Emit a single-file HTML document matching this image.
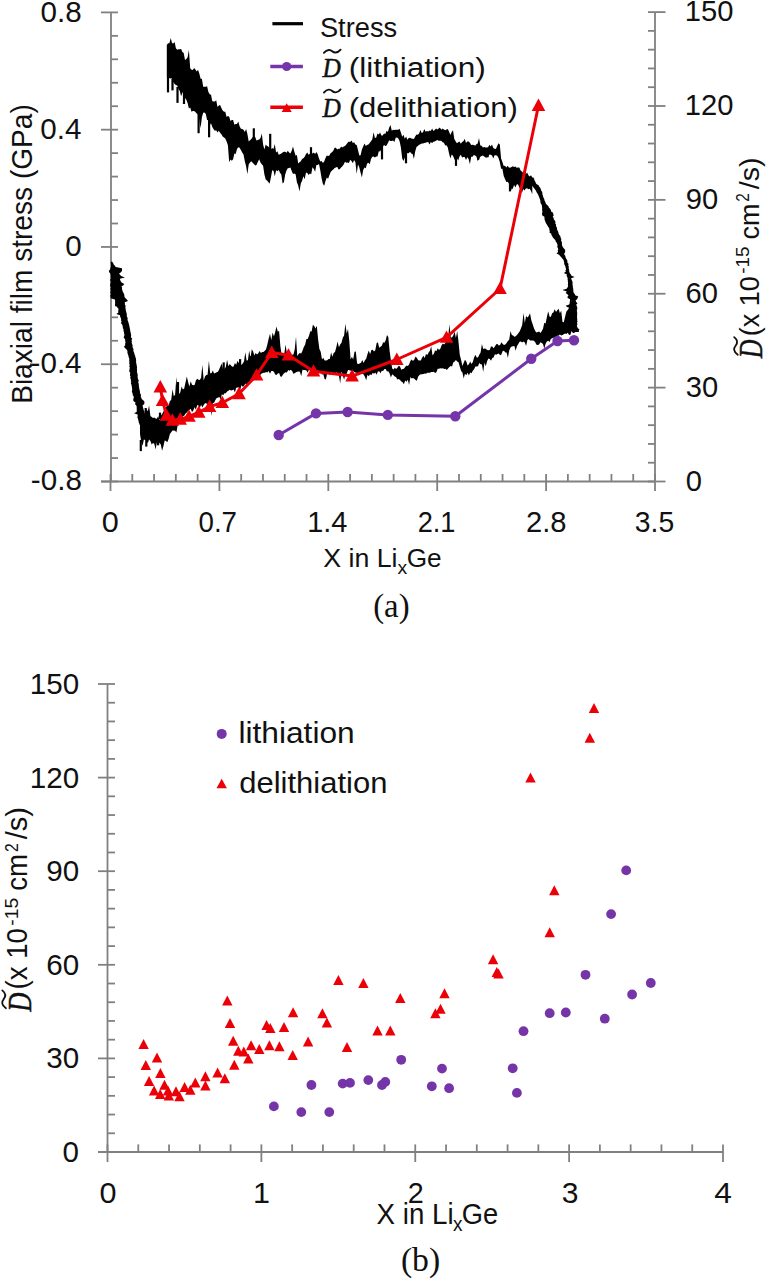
<!DOCTYPE html>
<html><head><meta charset="utf-8"><title>Figure</title>
<style>html,body{margin:0;padding:0;background:#fff;}body{width:766px;height:1280px;overflow:hidden;font-family:"Liberation Sans",sans-serif;}svg{display:block;}</style>
</head><body>
<svg width="766" height="1280" viewBox="0 0 766 1280"><line x1="111.00" y1="12.40" x2="111.00" y2="481.50" stroke="#808080" stroke-width="1.8"/>
<line x1="101.00" y1="12.40" x2="118.00" y2="12.40" stroke="#808080" stroke-width="1.8"/>
<line x1="111.00" y1="35.86" x2="118.00" y2="35.86" stroke="#808080" stroke-width="1.8"/>
<line x1="111.00" y1="59.31" x2="118.00" y2="59.31" stroke="#808080" stroke-width="1.8"/>
<line x1="111.00" y1="82.77" x2="118.00" y2="82.77" stroke="#808080" stroke-width="1.8"/>
<line x1="111.00" y1="106.22" x2="118.00" y2="106.22" stroke="#808080" stroke-width="1.8"/>
<line x1="101.00" y1="129.68" x2="118.00" y2="129.68" stroke="#808080" stroke-width="1.8"/>
<line x1="111.00" y1="153.13" x2="118.00" y2="153.13" stroke="#808080" stroke-width="1.8"/>
<line x1="111.00" y1="176.59" x2="118.00" y2="176.59" stroke="#808080" stroke-width="1.8"/>
<line x1="111.00" y1="200.04" x2="118.00" y2="200.04" stroke="#808080" stroke-width="1.8"/>
<line x1="111.00" y1="223.50" x2="118.00" y2="223.50" stroke="#808080" stroke-width="1.8"/>
<line x1="101.00" y1="246.95" x2="118.00" y2="246.95" stroke="#808080" stroke-width="1.8"/>
<line x1="111.00" y1="270.41" x2="118.00" y2="270.41" stroke="#808080" stroke-width="1.8"/>
<line x1="111.00" y1="293.86" x2="118.00" y2="293.86" stroke="#808080" stroke-width="1.8"/>
<line x1="111.00" y1="317.32" x2="118.00" y2="317.32" stroke="#808080" stroke-width="1.8"/>
<line x1="111.00" y1="340.77" x2="118.00" y2="340.77" stroke="#808080" stroke-width="1.8"/>
<line x1="101.00" y1="364.23" x2="118.00" y2="364.23" stroke="#808080" stroke-width="1.8"/>
<line x1="111.00" y1="387.68" x2="118.00" y2="387.68" stroke="#808080" stroke-width="1.8"/>
<line x1="111.00" y1="411.14" x2="118.00" y2="411.14" stroke="#808080" stroke-width="1.8"/>
<line x1="111.00" y1="434.59" x2="118.00" y2="434.59" stroke="#808080" stroke-width="1.8"/>
<line x1="111.00" y1="458.05" x2="118.00" y2="458.05" stroke="#808080" stroke-width="1.8"/>
<line x1="101.00" y1="481.50" x2="118.00" y2="481.50" stroke="#808080" stroke-width="1.8"/>
<line x1="655.00" y1="12.10" x2="655.00" y2="481.50" stroke="#808080" stroke-width="1.8"/>
<line x1="648.00" y1="12.10" x2="665.50" y2="12.10" stroke="#808080" stroke-width="1.8"/>
<line x1="648.00" y1="30.88" x2="655.00" y2="30.88" stroke="#808080" stroke-width="1.8"/>
<line x1="648.00" y1="49.65" x2="655.00" y2="49.65" stroke="#808080" stroke-width="1.8"/>
<line x1="648.00" y1="68.43" x2="655.00" y2="68.43" stroke="#808080" stroke-width="1.8"/>
<line x1="648.00" y1="87.20" x2="655.00" y2="87.20" stroke="#808080" stroke-width="1.8"/>
<line x1="648.00" y1="105.98" x2="665.50" y2="105.98" stroke="#808080" stroke-width="1.8"/>
<line x1="648.00" y1="124.76" x2="655.00" y2="124.76" stroke="#808080" stroke-width="1.8"/>
<line x1="648.00" y1="143.53" x2="655.00" y2="143.53" stroke="#808080" stroke-width="1.8"/>
<line x1="648.00" y1="162.31" x2="655.00" y2="162.31" stroke="#808080" stroke-width="1.8"/>
<line x1="648.00" y1="181.08" x2="655.00" y2="181.08" stroke="#808080" stroke-width="1.8"/>
<line x1="648.00" y1="199.86" x2="665.50" y2="199.86" stroke="#808080" stroke-width="1.8"/>
<line x1="648.00" y1="218.64" x2="655.00" y2="218.64" stroke="#808080" stroke-width="1.8"/>
<line x1="648.00" y1="237.41" x2="655.00" y2="237.41" stroke="#808080" stroke-width="1.8"/>
<line x1="648.00" y1="256.19" x2="655.00" y2="256.19" stroke="#808080" stroke-width="1.8"/>
<line x1="648.00" y1="274.96" x2="655.00" y2="274.96" stroke="#808080" stroke-width="1.8"/>
<line x1="648.00" y1="293.74" x2="665.50" y2="293.74" stroke="#808080" stroke-width="1.8"/>
<line x1="648.00" y1="312.52" x2="655.00" y2="312.52" stroke="#808080" stroke-width="1.8"/>
<line x1="648.00" y1="331.29" x2="655.00" y2="331.29" stroke="#808080" stroke-width="1.8"/>
<line x1="648.00" y1="350.07" x2="655.00" y2="350.07" stroke="#808080" stroke-width="1.8"/>
<line x1="648.00" y1="368.84" x2="655.00" y2="368.84" stroke="#808080" stroke-width="1.8"/>
<line x1="648.00" y1="387.62" x2="665.50" y2="387.62" stroke="#808080" stroke-width="1.8"/>
<line x1="648.00" y1="406.40" x2="655.00" y2="406.40" stroke="#808080" stroke-width="1.8"/>
<line x1="648.00" y1="425.17" x2="655.00" y2="425.17" stroke="#808080" stroke-width="1.8"/>
<line x1="648.00" y1="443.95" x2="655.00" y2="443.95" stroke="#808080" stroke-width="1.8"/>
<line x1="648.00" y1="462.72" x2="655.00" y2="462.72" stroke="#808080" stroke-width="1.8"/>
<line x1="648.00" y1="481.50" x2="665.50" y2="481.50" stroke="#808080" stroke-width="1.8"/>
<line x1="101.00" y1="481.50" x2="655.00" y2="481.50" stroke="#808080" stroke-width="1.8"/>
<line x1="110.50" y1="474.00" x2="110.50" y2="491.00" stroke="#808080" stroke-width="1.8"/>
<line x1="132.28" y1="474.00" x2="132.28" y2="481.50" stroke="#808080" stroke-width="1.8"/>
<line x1="154.06" y1="474.00" x2="154.06" y2="481.50" stroke="#808080" stroke-width="1.8"/>
<line x1="175.84" y1="474.00" x2="175.84" y2="481.50" stroke="#808080" stroke-width="1.8"/>
<line x1="197.62" y1="474.00" x2="197.62" y2="481.50" stroke="#808080" stroke-width="1.8"/>
<line x1="219.40" y1="474.00" x2="219.40" y2="491.00" stroke="#808080" stroke-width="1.8"/>
<line x1="241.18" y1="474.00" x2="241.18" y2="481.50" stroke="#808080" stroke-width="1.8"/>
<line x1="262.96" y1="474.00" x2="262.96" y2="481.50" stroke="#808080" stroke-width="1.8"/>
<line x1="284.74" y1="474.00" x2="284.74" y2="481.50" stroke="#808080" stroke-width="1.8"/>
<line x1="306.52" y1="474.00" x2="306.52" y2="481.50" stroke="#808080" stroke-width="1.8"/>
<line x1="328.30" y1="474.00" x2="328.30" y2="491.00" stroke="#808080" stroke-width="1.8"/>
<line x1="350.08" y1="474.00" x2="350.08" y2="481.50" stroke="#808080" stroke-width="1.8"/>
<line x1="371.86" y1="474.00" x2="371.86" y2="481.50" stroke="#808080" stroke-width="1.8"/>
<line x1="393.64" y1="474.00" x2="393.64" y2="481.50" stroke="#808080" stroke-width="1.8"/>
<line x1="415.42" y1="474.00" x2="415.42" y2="481.50" stroke="#808080" stroke-width="1.8"/>
<line x1="437.20" y1="474.00" x2="437.20" y2="491.00" stroke="#808080" stroke-width="1.8"/>
<line x1="458.98" y1="474.00" x2="458.98" y2="481.50" stroke="#808080" stroke-width="1.8"/>
<line x1="480.76" y1="474.00" x2="480.76" y2="481.50" stroke="#808080" stroke-width="1.8"/>
<line x1="502.54" y1="474.00" x2="502.54" y2="481.50" stroke="#808080" stroke-width="1.8"/>
<line x1="524.32" y1="474.00" x2="524.32" y2="481.50" stroke="#808080" stroke-width="1.8"/>
<line x1="546.10" y1="474.00" x2="546.10" y2="491.00" stroke="#808080" stroke-width="1.8"/>
<line x1="567.88" y1="474.00" x2="567.88" y2="481.50" stroke="#808080" stroke-width="1.8"/>
<line x1="589.66" y1="474.00" x2="589.66" y2="481.50" stroke="#808080" stroke-width="1.8"/>
<line x1="611.44" y1="474.00" x2="611.44" y2="481.50" stroke="#808080" stroke-width="1.8"/>
<line x1="633.22" y1="474.00" x2="633.22" y2="481.50" stroke="#808080" stroke-width="1.8"/>
<line x1="655.00" y1="474.00" x2="655.00" y2="491.00" stroke="#808080" stroke-width="1.8"/>
<line x1="107.50" y1="684.00" x2="107.50" y2="1152.00" stroke="#808080" stroke-width="1.8"/>
<line x1="98.00" y1="684.00" x2="115.00" y2="684.00" stroke="#808080" stroke-width="1.8"/>
<line x1="107.50" y1="702.72" x2="115.00" y2="702.72" stroke="#808080" stroke-width="1.8"/>
<line x1="107.50" y1="721.44" x2="115.00" y2="721.44" stroke="#808080" stroke-width="1.8"/>
<line x1="107.50" y1="740.16" x2="115.00" y2="740.16" stroke="#808080" stroke-width="1.8"/>
<line x1="107.50" y1="758.88" x2="115.00" y2="758.88" stroke="#808080" stroke-width="1.8"/>
<line x1="98.00" y1="777.60" x2="115.00" y2="777.60" stroke="#808080" stroke-width="1.8"/>
<line x1="107.50" y1="796.32" x2="115.00" y2="796.32" stroke="#808080" stroke-width="1.8"/>
<line x1="107.50" y1="815.04" x2="115.00" y2="815.04" stroke="#808080" stroke-width="1.8"/>
<line x1="107.50" y1="833.76" x2="115.00" y2="833.76" stroke="#808080" stroke-width="1.8"/>
<line x1="107.50" y1="852.48" x2="115.00" y2="852.48" stroke="#808080" stroke-width="1.8"/>
<line x1="98.00" y1="871.20" x2="115.00" y2="871.20" stroke="#808080" stroke-width="1.8"/>
<line x1="107.50" y1="889.92" x2="115.00" y2="889.92" stroke="#808080" stroke-width="1.8"/>
<line x1="107.50" y1="908.64" x2="115.00" y2="908.64" stroke="#808080" stroke-width="1.8"/>
<line x1="107.50" y1="927.36" x2="115.00" y2="927.36" stroke="#808080" stroke-width="1.8"/>
<line x1="107.50" y1="946.08" x2="115.00" y2="946.08" stroke="#808080" stroke-width="1.8"/>
<line x1="98.00" y1="964.80" x2="115.00" y2="964.80" stroke="#808080" stroke-width="1.8"/>
<line x1="107.50" y1="983.52" x2="115.00" y2="983.52" stroke="#808080" stroke-width="1.8"/>
<line x1="107.50" y1="1002.24" x2="115.00" y2="1002.24" stroke="#808080" stroke-width="1.8"/>
<line x1="107.50" y1="1020.96" x2="115.00" y2="1020.96" stroke="#808080" stroke-width="1.8"/>
<line x1="107.50" y1="1039.68" x2="115.00" y2="1039.68" stroke="#808080" stroke-width="1.8"/>
<line x1="98.00" y1="1058.40" x2="115.00" y2="1058.40" stroke="#808080" stroke-width="1.8"/>
<line x1="107.50" y1="1077.12" x2="115.00" y2="1077.12" stroke="#808080" stroke-width="1.8"/>
<line x1="107.50" y1="1095.84" x2="115.00" y2="1095.84" stroke="#808080" stroke-width="1.8"/>
<line x1="107.50" y1="1114.56" x2="115.00" y2="1114.56" stroke="#808080" stroke-width="1.8"/>
<line x1="107.50" y1="1133.28" x2="115.00" y2="1133.28" stroke="#808080" stroke-width="1.8"/>
<line x1="98.00" y1="1152.00" x2="115.00" y2="1152.00" stroke="#808080" stroke-width="1.8"/>
<line x1="98.00" y1="1152.00" x2="723.00" y2="1152.00" stroke="#808080" stroke-width="1.8"/>
<line x1="107.50" y1="1144.40" x2="107.50" y2="1162.00" stroke="#808080" stroke-width="1.8"/>
<line x1="138.28" y1="1144.40" x2="138.28" y2="1152.00" stroke="#808080" stroke-width="1.8"/>
<line x1="169.05" y1="1144.40" x2="169.05" y2="1152.00" stroke="#808080" stroke-width="1.8"/>
<line x1="199.82" y1="1144.40" x2="199.82" y2="1152.00" stroke="#808080" stroke-width="1.8"/>
<line x1="230.60" y1="1144.40" x2="230.60" y2="1152.00" stroke="#808080" stroke-width="1.8"/>
<line x1="261.38" y1="1144.40" x2="261.38" y2="1162.00" stroke="#808080" stroke-width="1.8"/>
<line x1="292.15" y1="1144.40" x2="292.15" y2="1152.00" stroke="#808080" stroke-width="1.8"/>
<line x1="322.93" y1="1144.40" x2="322.93" y2="1152.00" stroke="#808080" stroke-width="1.8"/>
<line x1="353.70" y1="1144.40" x2="353.70" y2="1152.00" stroke="#808080" stroke-width="1.8"/>
<line x1="384.48" y1="1144.40" x2="384.48" y2="1152.00" stroke="#808080" stroke-width="1.8"/>
<line x1="415.25" y1="1144.40" x2="415.25" y2="1162.00" stroke="#808080" stroke-width="1.8"/>
<line x1="446.02" y1="1144.40" x2="446.02" y2="1152.00" stroke="#808080" stroke-width="1.8"/>
<line x1="476.80" y1="1144.40" x2="476.80" y2="1152.00" stroke="#808080" stroke-width="1.8"/>
<line x1="507.57" y1="1144.40" x2="507.57" y2="1152.00" stroke="#808080" stroke-width="1.8"/>
<line x1="538.35" y1="1144.40" x2="538.35" y2="1152.00" stroke="#808080" stroke-width="1.8"/>
<line x1="569.12" y1="1144.40" x2="569.12" y2="1162.00" stroke="#808080" stroke-width="1.8"/>
<line x1="599.90" y1="1144.40" x2="599.90" y2="1152.00" stroke="#808080" stroke-width="1.8"/>
<line x1="630.67" y1="1144.40" x2="630.67" y2="1152.00" stroke="#808080" stroke-width="1.8"/>
<line x1="661.45" y1="1144.40" x2="661.45" y2="1152.00" stroke="#808080" stroke-width="1.8"/>
<line x1="692.23" y1="1144.40" x2="692.23" y2="1152.00" stroke="#808080" stroke-width="1.8"/>
<line x1="723.00" y1="1144.40" x2="723.00" y2="1162.00" stroke="#808080" stroke-width="1.8"/>
<path d="M166.8,45.0 L168.1,43.2 L169.4,43.3 L170.7,38.1 L172.0,43.1 L173.3,43.5 L174.6,42.0 L175.9,48.2 L177.2,49.8 L178.5,49.3 L179.8,49.2 L181.1,48.9 L182.4,51.9 L183.7,53.0 L185.0,60.1 L186.3,58.9 L187.6,57.3 L188.9,50.0 L190.2,68.2 L191.5,69.7 L192.8,70.0 L194.1,68.0 L195.4,69.5 L196.7,71.6 L198.0,69.8 L199.3,73.4 L200.6,78.8 L201.9,78.7 L203.2,86.8 L204.5,86.7 L205.8,86.8 L207.1,86.2 L208.4,92.0 L209.7,94.2 L211.0,94.7 L212.3,101.3 L213.6,101.4 L214.9,101.4 L216.2,100.2 L217.5,107.0 L218.8,105.6 L220.1,105.1 L221.4,107.9 L222.7,110.6 L224.0,111.8 L225.3,111.7 L226.6,117.0 L227.9,116.1 L229.2,116.8 L230.5,120.9 L231.8,120.1 L233.1,120.0 L234.4,124.7 L235.7,124.1 L237.0,124.0 L238.3,121.6 L239.6,126.2 L240.9,128.7 L242.2,129.0 L243.5,129.8 L244.8,132.1 L246.1,129.0 L247.4,133.9 L248.7,141.4 L250.0,140.3 L251.3,139.1 L252.6,137.3 L253.9,136.0 L255.2,137.0 L256.5,140.4 L257.8,139.9 L259.2,139.4 L260.5,137.9 L261.8,133.5 L263.1,144.6 L264.4,149.5 L265.7,144.4 L267.0,146.0 L268.3,146.6 L269.6,148.3 L270.9,149.6 L272.2,148.0 L273.5,149.0 L274.8,144.0 L276.1,152.6 L277.4,151.2 L278.7,154.8 L280.0,154.2 L281.3,153.5 L282.6,152.6 L283.9,151.8 L285.2,151.7 L286.5,152.8 L287.8,150.8 L289.1,152.6 L290.4,153.4 L291.7,150.7 L293.0,146.6 L294.3,151.4 L295.6,155.8 L296.9,154.9 L298.2,163.6 L299.5,162.3 L300.8,161.2 L302.1,159.0 L303.4,158.3 L304.7,156.7 L306.0,154.0 L307.3,152.5 L308.6,154.7 L309.9,153.7 L311.2,153.0 L312.5,153.6 L313.8,152.5 L315.1,154.1 L316.4,151.9 L317.7,154.3 L319.0,158.6 L320.3,161.4 L321.6,160.9 L322.9,163.0 L324.2,161.4 L325.5,157.9 L326.8,155.5 L328.1,156.1 L329.4,155.4 L330.7,153.1 L332.0,152.3 L333.3,150.8 L334.6,147.8 L335.9,147.7 L337.2,149.5 L338.5,148.8 L339.8,148.7 L341.1,146.6 L342.4,147.5 L343.7,146.4 L345.0,146.1 L346.3,144.5 L347.6,142.7 L348.9,141.6 L350.2,142.1 L351.5,140.6 L352.8,143.0 L354.1,142.2 L355.4,144.5 L356.7,145.1 L358.0,150.0 L359.3,155.5 L360.6,155.3 L361.9,149.6 L363.2,146.5 L364.5,143.6 L365.8,145.9 L367.1,144.9 L368.4,144.4 L369.7,142.9 L371.0,141.2 L372.3,139.2 L373.6,132.3 L374.9,138.0 L376.2,137.4 L377.5,133.6 L378.8,134.4 L380.1,132.4 L381.4,135.6 L382.7,135.4 L384.0,133.4 L385.3,134.0 L386.6,130.7 L387.9,132.1 L389.2,127.6 L390.5,124.9 L391.8,130.8 L393.1,129.7 L394.4,130.1 L395.7,129.8 L397.0,129.7 L398.3,129.8 L399.6,128.7 L400.9,132.5 L402.2,136.8 L403.5,134.7 L404.8,138.8 L406.1,136.5 L407.4,139.8 L408.7,137.9 L410.0,137.8 L411.3,138.4 L412.6,138.7 L413.9,138.9 L415.2,136.5 L416.5,134.5 L417.8,134.7 L419.1,133.4 L420.4,130.0 L421.7,133.0 L423.0,132.3 L424.3,128.9 L425.6,131.7 L426.9,131.1 L428.2,131.4 L429.5,130.5 L430.8,131.1 L432.1,128.6 L433.4,130.9 L434.7,130.0 L436.0,128.6 L437.3,129.6 L438.6,128.5 L439.9,127.6 L441.3,129.8 L442.6,128.5 L443.9,129.5 L445.2,130.2 L446.5,129.6 L447.8,128.9 L449.1,131.7 L450.4,135.0 L451.7,131.9 L453.0,130.3 L454.3,139.1 L455.6,141.3 L456.9,143.2 L458.2,142.2 L459.5,141.6 L460.8,143.8 L462.1,142.1 L463.4,141.3 L464.7,138.7 L466.0,143.1 L467.3,141.4 L468.6,141.4 L469.9,142.7 L471.2,145.1 L472.5,144.8 L473.8,145.1 L475.1,145.7 L476.4,144.2 L477.7,143.5 L479.0,137.9 L480.3,145.4 L481.6,145.8 L482.9,147.4 L484.2,147.1 L485.5,147.4 L486.8,147.6 L488.1,147.3 L489.4,144.8 L490.7,146.5 L492.0,144.5 L493.3,148.1 L494.6,148.8 L495.9,149.0 L497.2,145.9 L498.5,143.3 L499.8,144.5 L501.1,158.5 L502.4,161.9 L503.7,165.9 L505.0,165.8 L506.3,167.5 L507.6,165.8 L508.9,167.5 L510.2,167.7 L511.5,167.0 L512.8,166.3 L514.1,167.1 L515.4,166.6 L516.7,167.7 L518.0,167.4 L519.3,167.4 L520.6,170.4 L521.9,171.4 L523.2,172.9 L524.5,169.0 L525.8,174.2 L527.1,172.6 L528.4,175.2 L529.7,176.6 L531.0,175.3 L532.3,177.6 L532.3,194.3 L531.0,190.9 L529.7,188.8 L528.4,189.3 L527.1,188.2 L525.8,188.6 L524.5,190.5 L523.2,188.9 L521.9,193.0 L520.6,189.4 L519.3,187.6 L518.0,184.2 L516.7,184.6 L515.4,187.4 L514.1,184.9 L512.8,188.4 L511.5,189.7 L510.2,185.3 L508.9,183.4 L507.6,181.8 L506.3,182.0 L505.0,179.1 L503.7,176.0 L502.4,168.8 L501.1,168.8 L499.8,162.0 L498.5,157.9 L497.2,155.7 L495.9,155.3 L494.6,155.3 L493.3,158.5 L492.0,155.4 L490.7,154.7 L489.4,154.5 L488.1,156.6 L486.8,157.5 L485.5,157.6 L484.2,156.5 L482.9,155.5 L481.6,156.0 L480.3,156.8 L479.0,159.3 L477.7,160.9 L476.4,156.6 L475.1,155.6 L473.8,155.1 L472.5,156.8 L471.2,156.8 L469.9,164.2 L468.6,159.0 L467.3,157.2 L466.0,160.1 L464.7,157.0 L463.4,156.9 L462.1,157.4 L460.8,154.8 L459.5,156.5 L458.2,160.5 L456.9,158.3 L455.6,161.2 L454.3,159.0 L453.0,155.8 L451.7,154.6 L450.4,158.6 L449.1,153.7 L447.8,147.5 L446.5,145.3 L445.2,145.6 L443.9,142.8 L442.6,142.3 L441.3,140.8 L439.9,140.7 L438.6,140.8 L437.3,140.0 L436.0,140.7 L434.7,141.5 L433.4,141.8 L432.1,143.1 L430.8,142.1 L429.5,144.4 L428.2,141.9 L426.9,142.2 L425.6,142.7 L424.3,143.0 L423.0,143.4 L421.7,143.6 L420.4,144.2 L419.1,144.8 L417.8,146.1 L416.5,147.0 L415.2,151.4 L413.9,159.1 L412.6,154.0 L411.3,153.4 L410.0,151.8 L408.7,153.3 L407.4,153.0 L406.1,155.2 L404.8,157.8 L403.5,161.0 L402.2,158.4 L400.9,147.5 L399.6,141.2 L398.3,138.5 L397.0,137.5 L395.7,137.7 L394.4,142.1 L393.1,140.6 L391.8,140.9 L390.5,141.1 L389.2,140.2 L387.9,142.9 L386.6,145.4 L385.3,145.9 L384.0,145.1 L382.7,147.1 L381.4,149.0 L380.1,151.4 L378.8,151.3 L377.5,156.6 L376.2,156.4 L374.9,157.6 L373.6,156.4 L372.3,156.8 L371.0,158.9 L369.7,164.2 L368.4,162.7 L367.1,163.4 L365.8,168.3 L364.5,167.5 L363.2,169.9 L361.9,177.4 L360.6,172.7 L359.3,167.6 L358.0,164.5 L356.7,174.1 L355.4,162.2 L354.1,160.0 L352.8,163.2 L351.5,161.0 L350.2,159.8 L348.9,163.1 L347.6,162.5 L346.3,162.8 L345.0,161.7 L343.7,164.5 L342.4,166.3 L341.1,167.4 L339.8,169.0 L338.5,169.6 L337.2,166.8 L335.9,167.4 L334.6,168.1 L333.3,169.4 L332.0,170.4 L330.7,172.1 L329.4,175.2 L328.1,178.7 L326.8,177.6 L325.5,181.1 L324.2,185.7 L322.9,184.0 L321.6,178.3 L320.3,170.6 L319.0,164.1 L317.7,165.0 L316.4,165.1 L315.1,171.8 L313.8,168.9 L312.5,167.2 L311.2,174.2 L309.9,173.5 L308.6,175.0 L307.3,173.0 L306.0,172.5 L304.7,179.2 L303.4,176.2 L302.1,180.8 L300.8,183.6 L299.5,191.4 L298.2,185.5 L296.9,182.3 L295.6,174.3 L294.3,173.5 L293.0,174.0 L291.7,171.0 L290.4,167.6 L289.1,168.1 L287.8,168.2 L286.5,170.6 L285.2,174.5 L283.9,182.2 L282.6,183.6 L281.3,174.6 L280.0,172.7 L278.7,169.9 L277.4,171.3 L276.1,170.3 L274.8,176.4 L273.5,170.8 L272.2,170.3 L270.9,177.6 L269.6,183.7 L268.3,182.1 L267.0,180.4 L265.7,179.5 L264.4,174.5 L263.1,165.8 L261.8,164.3 L260.5,162.4 L259.2,159.2 L257.8,161.9 L256.5,164.9 L255.2,165.5 L253.9,164.0 L252.6,162.7 L251.3,161.3 L250.0,162.4 L248.7,164.5 L247.4,174.2 L246.1,166.2 L244.8,161.3 L243.5,154.6 L242.2,152.5 L240.9,150.1 L239.6,147.7 L238.3,147.3 L237.0,149.1 L235.7,153.9 L234.4,153.5 L233.1,159.3 L231.8,160.8 L230.5,159.4 L229.2,162.3 L227.9,145.3 L226.6,141.5 L225.3,138.4 L224.0,137.4 L222.7,136.5 L221.4,134.3 L220.1,132.8 L218.8,130.8 L217.5,132.4 L216.2,130.3 L214.9,130.8 L213.6,129.2 L212.3,126.9 L211.0,123.2 L209.7,125.3 L208.4,120.2 L207.1,119.9 L205.8,113.9 L204.5,112.5 L203.2,112.8 L201.9,117.2 L200.6,128.2 L199.3,119.5 L198.0,114.6 L196.7,113.5 L195.4,112.1 L194.1,111.0 L192.8,111.1 L191.5,111.8 L190.2,107.5 L188.9,108.5 L187.6,103.1 L186.3,99.8 L185.0,97.9 L183.7,90.7 L182.4,92.9 L181.1,96.2 L179.8,91.0 L178.5,89.0 L177.2,85.4 L175.9,85.1 L174.6,83.9 L173.3,82.0 L172.0,78.6 L170.7,78.4 L169.4,77.9 L168.1,79.4 L166.8,77.2Z" fill="#000"/>
<path d="M140.0,420.9 L141.3,419.8 L142.6,417.3 L143.9,414.4 L145.2,409.8 L146.5,409.2 L147.8,411.2 L149.1,405.6 L150.4,415.9 L151.7,417.1 L153.0,417.9 L154.3,417.6 L155.6,418.5 L156.9,418.7 L158.2,415.9 L159.5,420.3 L160.8,415.7 L162.1,414.0 L163.4,411.7 L164.7,408.4 L166.0,407.3 L167.3,404.8 L168.6,405.4 L169.9,401.1 L171.2,400.1 L172.5,389.3 L173.8,396.3 L175.1,394.7 L176.4,376.8 L177.7,395.7 L179.0,394.3 L180.3,392.2 L181.6,386.6 L182.9,389.4 L184.2,388.5 L185.5,382.6 L186.8,376.4 L188.1,382.1 L189.4,386.6 L190.7,381.3 L192.0,384.8 L193.3,385.2 L194.6,384.9 L195.9,380.6 L197.2,378.7 L198.5,379.8 L199.8,379.9 L201.1,377.7 L202.4,364.7 L203.7,380.4 L205.0,376.5 L206.3,375.1 L207.6,374.8 L208.9,360.8 L210.2,373.2 L211.5,373.2 L212.8,370.6 L214.1,373.4 L215.4,373.1 L216.7,372.2 L218.0,371.8 L219.3,369.1 L220.6,366.1 L221.9,363.5 L223.2,370.3 L224.5,369.1 L225.8,367.1 L227.1,359.8 L228.4,366.2 L229.7,364.1 L231.0,365.4 L232.3,366.8 L233.6,366.6 L234.9,363.0 L236.2,364.8 L237.5,360.7 L238.8,363.0 L240.1,363.4 L241.4,365.1 L242.7,363.4 L244.0,361.4 L245.3,352.2 L246.6,360.5 L247.9,360.3 L249.2,350.6 L250.5,358.1 L251.8,349.3 L253.1,351.4 L254.4,355.6 L255.7,353.0 L257.0,354.4 L258.3,353.2 L259.6,351.1 L260.9,353.1 L262.2,352.0 L263.5,352.1 L264.8,350.7 L266.1,349.3 L267.4,344.2 L268.7,338.4 L270.0,333.7 L271.3,340.2 L272.6,332.5 L273.9,336.4 L275.2,331.9 L276.5,326.4 L277.8,331.7 L279.1,330.7 L280.4,346.4 L281.7,354.7 L283.0,353.5 L284.3,353.4 L285.6,344.4 L286.9,353.5 L288.2,353.8 L289.5,356.2 L290.8,356.4 L292.1,354.8 L293.4,354.5 L294.7,349.4 L296.0,336.7 L297.3,356.2 L298.6,353.9 L299.9,353.1 L301.2,353.4 L302.5,350.7 L303.8,347.0 L305.1,344.7 L306.4,339.0 L307.7,338.9 L309.0,335.8 L310.3,331.2 L311.6,331.6 L312.9,324.7 L314.2,326.0 L315.5,328.6 L316.8,325.8 L318.1,339.3 L319.4,348.9 L320.7,351.8 L322.0,359.5 L323.3,357.8 L324.6,360.5 L325.9,360.6 L327.2,360.3 L328.5,359.0 L329.8,358.9 L331.1,352.4 L332.4,356.8 L333.7,352.9 L335.0,352.0 L336.3,347.3 L337.6,341.5 L338.9,347.3 L340.2,344.4 L341.5,342.7 L342.8,337.8 L344.1,335.5 L345.4,323.7 L346.7,333.5 L348.0,329.0 L349.3,340.9 L350.6,359.5 L351.9,356.7 L353.2,359.5 L354.5,351.7 L355.8,351.4 L357.1,363.6 L358.4,364.1 L359.7,363.4 L361.0,362.8 L362.3,360.0 L363.6,363.0 L364.9,360.3 L366.2,358.7 L367.5,354.1 L368.8,350.4 L370.1,354.2 L371.4,349.9 L372.7,349.8 L374.0,351.6 L375.3,350.3 L376.6,343.2 L377.9,342.2 L379.2,347.8 L380.5,346.7 L381.8,345.7 L383.1,342.3 L384.4,342.8 L385.7,340.3 L387.0,335.0 L388.3,337.0 L389.6,350.7 L390.9,360.3 L392.2,368.4 L393.5,369.5 L394.8,367.7 L396.1,369.1 L397.4,367.8 L398.7,365.7 L400.0,366.5 L401.3,369.7 L402.6,369.1 L403.9,368.8 L405.2,367.1 L406.5,365.6 L407.8,365.9 L409.1,364.5 L410.4,361.1 L411.7,359.4 L413.0,361.1 L414.3,359.6 L415.6,356.6 L416.9,358.0 L418.2,360.2 L419.5,360.6 L420.8,360.6 L422.1,357.8 L423.4,355.8 L424.7,357.9 L426.0,353.9 L427.3,355.1 L428.6,352.5 L429.9,350.8 L431.2,346.3 L432.5,355.3 L433.8,353.9 L435.1,350.2 L436.4,351.3 L437.7,348.2 L439.0,350.1 L440.3,348.7 L441.6,345.3 L442.9,343.6 L444.2,344.5 L445.5,342.8 L446.8,340.4 L448.1,337.9 L449.4,324.2 L450.7,337.6 L452.0,337.5 L453.3,335.6 L454.6,331.5 L455.9,338.1 L457.2,331.1 L458.5,341.8 L459.8,355.0 L461.1,360.1 L462.4,365.9 L463.7,362.7 L465.0,359.7 L466.3,361.5 L467.6,365.4 L468.9,364.2 L470.2,361.6 L471.5,363.9 L472.8,362.0 L474.1,357.6 L475.4,354.7 L476.7,357.6 L478.0,357.4 L479.3,354.8 L480.6,352.6 L481.9,344.1 L483.2,349.0 L484.5,348.4 L485.8,348.7 L487.1,350.0 L488.4,350.3 L489.7,350.0 L491.0,346.6 L492.3,346.6 L493.6,348.2 L494.9,346.4 L496.2,344.2 L497.5,344.0 L498.8,345.6 L500.1,345.0 L501.4,342.2 L502.7,344.0 L504.0,344.9 L505.3,344.6 L506.6,342.9 L507.9,341.1 L509.2,339.7 L510.5,330.9 L511.8,335.1 L513.1,335.5 L514.4,336.7 L515.7,336.2 L517.0,335.0 L518.3,333.3 L519.6,331.6 L520.9,328.4 L522.2,325.0 L523.5,313.0 L524.8,322.9 L526.1,316.1 L527.4,317.6 L528.7,316.1 L530.0,313.2 L531.3,320.2 L532.6,323.9 L533.9,328.0 L535.2,331.0 L536.5,332.5 L537.8,332.1 L539.1,331.5 L540.4,332.9 L541.7,331.2 L543.0,328.7 L544.3,322.8 L545.6,323.5 L546.9,317.1 L548.2,311.2 L549.5,316.6 L550.8,317.1 L552.1,313.2 L553.4,312.6 L554.7,309.2 L556.0,312.1 L557.3,310.2 L558.6,308.8 L559.9,313.3 L561.2,310.7 L562.5,321.9 L563.8,322.2 L565.1,316.7 L566.4,311.4 L567.7,309.9 L569.0,308.1 L570.3,297.7 L571.6,300.9 L572.9,305.9 L574.2,305.3 L575.5,300.1 L575.5,331.5 L574.2,332.9 L572.9,332.9 L571.6,331.1 L570.3,335.0 L569.0,334.7 L567.7,332.8 L566.4,333.9 L565.1,333.6 L563.8,334.3 L562.5,334.9 L561.2,335.4 L559.9,334.6 L558.6,335.7 L557.3,335.8 L556.0,336.8 L554.7,339.2 L553.4,337.5 L552.1,338.2 L550.8,339.1 L549.5,342.0 L548.2,340.7 L546.9,341.6 L545.6,343.7 L544.3,348.8 L543.0,343.9 L541.7,343.0 L540.4,342.2 L539.1,344.4 L537.8,345.0 L536.5,344.7 L535.2,342.3 L533.9,340.7 L532.6,340.6 L531.3,340.4 L530.0,340.5 L528.7,338.9 L527.4,339.9 L526.1,346.1 L524.8,342.5 L523.5,341.4 L522.2,342.4 L520.9,341.5 L519.6,341.8 L518.3,343.9 L517.0,346.1 L515.7,350.8 L514.4,345.9 L513.1,346.2 L511.8,346.4 L510.5,347.6 L509.2,350.4 L507.9,358.0 L506.6,352.6 L505.3,352.5 L504.0,350.8 L502.7,351.1 L501.4,354.6 L500.1,355.3 L498.8,353.5 L497.5,354.1 L496.2,354.8 L494.9,354.3 L493.6,357.4 L492.3,357.9 L491.0,360.7 L489.7,358.9 L488.4,358.6 L487.1,361.3 L485.8,366.3 L484.5,362.8 L483.2,372.1 L481.9,364.6 L480.6,364.2 L479.3,363.1 L478.0,366.2 L476.7,366.4 L475.4,366.6 L474.1,369.3 L472.8,370.7 L471.5,373.3 L470.2,372.4 L468.9,375.4 L467.6,372.7 L466.3,375.2 L465.0,373.7 L463.7,378.5 L462.4,372.5 L461.1,371.0 L459.8,366.8 L458.5,362.3 L457.2,361.6 L455.9,360.0 L454.6,361.6 L453.3,362.4 L452.0,366.6 L450.7,366.1 L449.4,366.9 L448.1,368.4 L446.8,370.0 L445.5,368.7 L444.2,369.0 L442.9,368.3 L441.6,368.6 L440.3,368.2 L439.0,368.8 L437.7,368.7 L436.4,372.3 L435.1,373.0 L433.8,371.7 L432.5,371.9 L431.2,372.1 L429.9,372.7 L428.6,372.7 L427.3,372.7 L426.0,373.7 L424.7,373.4 L423.4,374.0 L422.1,374.3 L420.8,374.2 L419.5,375.1 L418.2,376.4 L416.9,380.7 L415.6,380.0 L414.3,378.8 L413.0,378.1 L411.7,378.6 L410.4,376.9 L409.1,385.0 L407.8,379.7 L406.5,381.8 L405.2,380.6 L403.9,384.3 L402.6,382.2 L401.3,381.4 L400.0,379.9 L398.7,378.9 L397.4,379.6 L396.1,377.3 L394.8,376.4 L393.5,375.2 L392.2,374.2 L390.9,377.6 L389.6,373.5 L388.3,371.2 L387.0,371.4 L385.7,369.1 L384.4,369.0 L383.1,370.9 L381.8,370.8 L380.5,373.2 L379.2,371.3 L377.9,371.4 L376.6,374.8 L375.3,372.6 L374.0,373.7 L372.7,372.7 L371.4,375.3 L370.1,374.2 L368.8,376.2 L367.5,374.8 L366.2,380.3 L364.9,376.8 L363.6,374.5 L362.3,373.7 L361.0,372.6 L359.7,375.0 L358.4,375.2 L357.1,372.8 L355.8,372.8 L354.5,371.9 L353.2,371.2 L351.9,372.0 L350.6,370.6 L349.3,370.2 L348.0,369.9 L346.7,373.8 L345.4,374.2 L344.1,379.7 L342.8,375.6 L341.5,371.5 L340.2,383.5 L338.9,375.4 L337.6,372.9 L336.3,372.6 L335.0,373.2 L333.7,374.0 L332.4,375.1 L331.1,372.7 L329.8,375.3 L328.5,373.0 L327.2,373.1 L325.9,379.4 L324.6,379.1 L323.3,374.3 L322.0,374.5 L320.7,372.4 L319.4,371.4 L318.1,371.2 L316.8,370.2 L315.5,369.8 L314.2,370.2 L312.9,370.0 L311.6,369.9 L310.3,369.3 L309.0,369.6 L307.7,372.8 L306.4,370.5 L305.1,370.1 L303.8,370.1 L302.5,369.7 L301.2,376.3 L299.9,371.7 L298.6,371.6 L297.3,371.8 L296.0,372.2 L294.7,373.2 L293.4,373.8 L292.1,371.0 L290.8,369.8 L289.5,370.8 L288.2,369.9 L286.9,372.5 L285.6,372.2 L284.3,373.0 L283.0,374.4 L281.7,376.8 L280.4,376.4 L279.1,373.1 L277.8,373.4 L276.5,374.9 L275.2,374.5 L273.9,371.8 L272.6,371.1 L271.3,370.9 L270.0,373.8 L268.7,371.1 L267.4,372.4 L266.1,372.0 L264.8,372.8 L263.5,372.7 L262.2,373.3 L260.9,373.9 L259.6,376.6 L258.3,376.4 L257.0,377.3 L255.7,378.8 L254.4,379.9 L253.1,380.3 L251.8,381.7 L250.5,380.4 L249.2,381.4 L247.9,383.4 L246.6,385.1 L245.3,383.6 L244.0,385.9 L242.7,386.8 L241.4,385.3 L240.1,390.4 L238.8,387.2 L237.5,387.6 L236.2,387.7 L234.9,392.5 L233.6,389.5 L232.3,390.3 L231.0,390.6 L229.7,389.8 L228.4,390.8 L227.1,391.5 L225.8,393.3 L224.5,393.2 L223.2,395.2 L221.9,394.3 L220.6,399.6 L219.3,396.8 L218.0,397.8 L216.7,398.1 L215.4,399.9 L214.1,402.8 L212.8,402.9 L211.5,416.0 L210.2,405.0 L208.9,409.6 L207.6,404.7 L206.3,403.3 L205.0,403.2 L203.7,405.1 L202.4,407.4 L201.1,404.8 L199.8,408.0 L198.5,405.4 L197.2,405.0 L195.9,409.7 L194.6,407.2 L193.3,410.5 L192.0,411.9 L190.7,408.8 L189.4,410.0 L188.1,410.9 L186.8,412.4 L185.5,413.4 L184.2,415.8 L182.9,416.3 L181.6,417.6 L180.3,419.3 L179.0,421.8 L177.7,425.0 L176.4,432.6 L175.1,430.8 L173.8,430.5 L172.5,430.5 L171.2,432.2 L169.9,434.1 L168.6,439.0 L167.3,442.2 L166.0,441.1 L164.7,440.5 L163.4,446.2 L162.1,450.7 L160.8,444.4 L159.5,443.1 L158.2,441.8 L156.9,442.2 L155.6,449.5 L154.3,443.8 L153.0,443.0 L151.7,444.4 L150.4,441.0 L149.1,439.6 L147.8,443.2 L146.5,440.7 L145.2,439.9 L143.9,439.4 L142.6,445.7 L141.3,442.3 L140.0,434.0Z" fill="#000"/>
<path d="M110.8,261.7 L110.8,263.0 L111.0,264.3 L111.0,265.6 L111.0,266.9 L110.4,268.2 L110.2,269.5 L108.8,270.8 L109.2,272.2 L110.3,273.5 L110.6,274.8 L110.8,276.1 L110.8,277.4 L110.9,278.7 L109.8,280.0 L110.9,281.3 L110.7,282.6 L110.4,283.9 L110.0,285.2 L110.4,286.5 L111.0,287.8 L110.2,289.1 L111.0,290.4 L110.4,291.7 L110.5,293.1 L110.9,294.4 L110.1,295.7 L110.7,297.0 L110.8,298.3 L114.8,299.6 L116.0,300.9 L116.3,302.2 L116.5,303.5 L114.8,304.8 L116.4,306.1 L117.3,307.4 L118.5,308.7 L118.4,310.0 L118.2,311.3 L118.4,312.6 L116.3,314.0 L120.0,315.3 L120.1,316.6 L120.8,317.9 L121.1,319.2 L121.0,320.5 L121.7,321.8 L120.8,323.1 L122.1,324.4 L122.6,325.7 L122.8,327.0 L122.9,328.3 L123.6,329.6 L123.5,330.9 L124.0,332.2 L124.1,333.6 L124.5,334.9 L124.1,336.2 L123.6,337.5 L124.7,338.8 L125.2,340.1 L125.2,341.4 L125.6,342.7 L125.0,344.0 L125.3,345.3 L124.0,346.6 L124.9,347.9 L126.4,349.2 L127.2,350.5 L127.5,351.8 L127.4,353.1 L128.0,354.5 L128.4,355.8 L128.6,357.1 L129.2,358.4 L129.3,359.7 L129.2,361.0 L129.4,362.3 L129.2,363.6 L129.7,364.9 L129.2,366.2 L129.9,367.5 L129.6,368.8 L129.4,370.1 L129.2,371.4 L130.3,372.7 L130.1,374.1 L130.0,375.4 L130.6,376.7 L130.1,378.0 L130.9,379.3 L130.8,380.6 L131.3,381.9 L130.8,383.2 L131.4,384.5 L131.6,385.8 L131.9,387.1 L132.0,388.4 L132.3,389.7 L131.8,391.0 L132.1,392.3 L132.6,393.6 L132.7,395.0 L133.6,396.3 L133.8,397.6 L133.4,398.9 L133.1,400.2 L134.0,401.5 L135.7,402.8 L134.9,404.1 L136.3,405.4 L136.7,406.7 L136.7,408.0 L136.7,409.3 L136.8,410.6 L136.6,411.9 L134.0,413.2 L137.6,414.5 L137.7,415.9 L137.3,417.2 L137.9,418.5 L138.2,419.8 L138.5,421.1 L138.8,422.4 L139.3,423.7 L139.7,425.0 L147.3,425.0 L146.9,423.7 L146.5,422.4 L147.0,421.1 L148.2,419.8 L149.7,418.5 L147.0,417.2 L146.0,415.9 L145.4,414.5 L144.5,413.2 L144.4,411.9 L143.9,410.6 L143.5,409.3 L143.2,408.0 L142.8,406.7 L142.5,405.4 L144.3,404.1 L144.4,402.8 L144.4,401.5 L143.2,400.2 L141.7,398.9 L141.2,397.6 L140.7,396.3 L141.1,395.0 L140.2,393.6 L139.9,392.3 L139.9,391.0 L139.5,389.7 L139.3,388.4 L139.0,387.1 L138.9,385.8 L138.8,384.5 L138.6,383.2 L138.2,381.9 L138.8,380.6 L138.0,379.3 L137.8,378.0 L137.6,376.7 L137.7,375.4 L137.6,374.1 L137.1,372.7 L137.0,371.4 L137.1,370.1 L136.9,368.8 L137.0,367.5 L136.9,366.2 L136.6,364.9 L136.4,363.6 L136.0,362.3 L136.2,361.0 L136.0,359.7 L136.0,358.4 L135.3,357.1 L135.2,355.8 L134.5,354.5 L134.3,353.1 L133.7,351.8 L133.3,350.5 L133.6,349.2 L132.8,347.9 L132.5,346.6 L132.6,345.3 L132.1,344.0 L131.7,342.7 L131.9,341.4 L131.5,340.1 L132.3,338.8 L131.1,337.5 L131.0,336.2 L131.2,334.9 L130.8,333.6 L130.6,332.2 L130.2,330.9 L130.1,329.6 L129.8,328.3 L129.5,327.0 L129.3,325.7 L129.0,324.4 L128.6,323.1 L128.2,321.8 L127.7,320.5 L127.5,319.2 L127.7,317.9 L126.8,316.6 L126.8,315.3 L126.8,314.0 L126.4,312.6 L126.0,311.3 L125.7,310.0 L125.7,308.7 L125.3,307.4 L125.7,306.1 L124.9,304.8 L124.9,303.5 L124.7,302.2 L128.0,300.9 L126.8,299.6 L125.6,298.3 L124.5,297.0 L124.4,295.7 L124.2,294.4 L123.6,293.1 L122.8,291.7 L122.5,290.4 L121.9,289.1 L122.2,287.8 L121.4,286.5 L123.3,285.2 L124.3,283.9 L121.6,282.6 L120.8,281.3 L120.1,280.0 L120.0,278.7 L124.9,277.4 L121.1,276.1 L120.0,274.8 L119.1,273.5 L121.0,272.2 L122.0,270.8 L122.1,269.5 L122.0,268.2 L115.7,266.9 L114.7,265.6 L113.5,264.3 L113.2,263.0 L112.1,261.7Z" fill="#000"/>
<path d="M520.4,177.4 L519.2,178.7 L521.7,180.0 L527.4,181.3 L529.0,182.6 L530.6,184.0 L531.7,185.3 L532.7,186.6 L533.9,187.9 L534.9,189.2 L535.8,190.5 L536.4,191.8 L537.0,193.1 L538.1,194.4 L538.5,195.7 L539.1,197.1 L539.6,198.4 L540.1,199.7 L540.4,201.0 L540.4,202.3 L540.8,203.6 L541.8,204.9 L541.9,206.2 L542.1,207.5 L542.2,208.8 L542.1,210.2 L542.4,211.5 L542.2,212.8 L542.0,214.1 L542.3,215.4 L544.4,216.7 L544.5,218.0 L544.5,219.3 L544.9,220.6 L545.5,221.9 L546.0,223.3 L546.8,224.6 L547.7,225.9 L548.5,227.2 L549.3,228.5 L549.3,229.8 L549.8,231.1 L549.4,232.4 L551.3,233.7 L551.4,235.0 L552.4,236.4 L553.0,237.7 L554.3,239.0 L555.4,240.3 L555.7,241.6 L556.9,242.9 L557.3,244.2 L557.6,245.5 L557.2,246.8 L557.8,248.1 L558.3,249.5 L557.6,250.8 L558.1,252.1 L556.5,253.4 L559.1,254.7 L560.1,256.0 L561.3,257.3 L562.3,258.6 L563.6,259.9 L563.8,261.3 L564.2,262.6 L564.2,263.9 L564.8,265.2 L565.4,266.5 L565.6,267.8 L566.1,269.1 L565.5,270.4 L565.8,271.7 L563.8,273.0 L567.0,274.4 L566.6,275.7 L567.2,277.0 L567.7,278.3 L567.6,279.6 L567.9,280.9 L567.9,282.2 L568.1,283.5 L567.8,284.8 L568.2,286.1 L567.5,287.5 L566.6,288.8 L562.4,290.1 L566.9,291.4 L565.7,292.7 L567.0,294.0 L568.5,295.3 L567.6,296.6 L567.6,297.9 L570.1,299.2 L571.2,300.6 L571.4,301.9 L570.7,303.2 L569.3,304.5 L565.7,305.8 L567.1,307.1 L571.2,308.4 L572.2,309.7 L572.1,311.0 L571.4,312.3 L570.3,313.7 L570.8,315.0 L571.5,316.3 L570.0,317.6 L566.5,318.9 L570.7,320.2 L568.5,321.5 L569.5,322.8 L572.3,324.1 L572.5,325.4 L572.6,326.8 L572.7,328.1 L572.3,329.4 L572.9,330.7 L572.9,332.0 L579.0,332.0 L578.7,330.7 L579.5,329.4 L577.6,328.1 L577.2,326.8 L576.8,325.4 L577.5,324.1 L576.9,322.8 L577.6,321.5 L577.1,320.2 L577.3,318.9 L577.0,317.6 L577.1,316.3 L577.1,315.0 L577.2,313.7 L577.1,312.3 L576.9,311.0 L576.9,309.7 L577.4,308.4 L577.1,307.1 L576.6,305.8 L576.3,304.5 L577.5,303.2 L576.2,301.9 L575.5,300.6 L577.1,299.2 L577.6,297.9 L578.3,296.6 L575.2,295.3 L574.7,294.0 L573.7,292.7 L573.4,291.4 L573.3,290.1 L573.2,288.8 L572.9,287.5 L572.8,286.1 L572.6,284.8 L572.5,283.5 L572.6,282.2 L572.2,280.9 L571.5,279.6 L571.1,278.3 L574.7,277.0 L571.5,275.7 L570.9,274.4 L569.7,273.0 L569.3,271.7 L569.2,270.4 L568.9,269.1 L568.6,267.8 L568.9,266.5 L568.1,265.2 L568.7,263.9 L567.3,262.6 L567.5,261.3 L567.0,259.9 L566.1,258.6 L565.5,257.3 L565.4,256.0 L564.4,254.7 L564.2,253.4 L565.2,252.1 L565.2,250.8 L564.9,249.5 L563.5,248.1 L562.7,246.8 L562.1,245.5 L561.9,244.2 L562.0,242.9 L561.6,241.6 L561.0,240.3 L561.4,239.0 L560.6,237.7 L560.5,236.4 L559.4,235.0 L558.7,233.7 L558.4,232.4 L557.9,231.1 L557.1,229.8 L557.0,228.5 L556.8,227.2 L555.9,225.9 L556.1,224.6 L555.1,223.3 L555.6,221.9 L554.8,220.6 L553.7,219.3 L553.7,218.0 L552.7,216.7 L553.7,215.4 L553.2,214.1 L553.1,212.8 L551.1,211.5 L551.0,210.2 L550.1,208.8 L548.9,207.5 L548.4,206.2 L547.1,204.9 L545.7,203.6 L545.5,202.3 L544.7,201.0 L544.4,199.7 L544.0,198.4 L543.2,197.1 L543.0,195.7 L542.4,194.4 L542.4,193.1 L542.1,191.8 L541.1,190.5 L540.9,189.2 L540.3,187.9 L539.2,186.6 L538.6,185.3 L536.4,184.0 L535.6,182.6 L535.1,181.3 L534.3,180.0 L534.2,178.7 L533.4,177.4Z" fill="#000"/>
<line x1="168" y1="77" x2="168" y2="92.4" stroke="#000" stroke-width="2.2"/>
<line x1="172.5" y1="79" x2="172.5" y2="90.4" stroke="#000" stroke-width="2.2"/>
<line x1="177.5" y1="87" x2="177.5" y2="102.9" stroke="#000" stroke-width="2.2"/>
<line x1="184" y1="91" x2="184" y2="104" stroke="#000" stroke-width="2.2"/>
<line x1="198.6" y1="112" x2="198.6" y2="133.2" stroke="#000" stroke-width="2.2"/>
<line x1="209.1" y1="120" x2="209.1" y2="137.3" stroke="#000" stroke-width="2.2"/>
<line x1="382" y1="146" x2="382" y2="159.4" stroke="#000" stroke-width="2.2"/>
<line x1="406" y1="152" x2="406" y2="163.3" stroke="#000" stroke-width="2.2"/>
<line x1="456" y1="157" x2="456" y2="165.9" stroke="#000" stroke-width="2.2"/>
<line x1="510" y1="182" x2="510" y2="191.4" stroke="#000" stroke-width="2.2"/>
<line x1="478.2" y1="156" x2="478.2" y2="159.7" stroke="#000" stroke-width="2.2"/>
<line x1="487.6" y1="155" x2="487.6" y2="157.3" stroke="#000" stroke-width="2.2"/>
<line x1="253.8" y1="140" x2="253.8" y2="128.3" stroke="#000" stroke-width="2.2"/>
<line x1="270.2" y1="150" x2="270.2" y2="133.8" stroke="#000" stroke-width="2.2"/>
<line x1="311" y1="155" x2="311" y2="147.2" stroke="#000" stroke-width="2.2"/>
<line x1="178" y1="401" x2="178" y2="382" stroke="#000" stroke-width="2.2"/>
<line x1="212" y1="380" x2="212" y2="373.5" stroke="#000" stroke-width="2.2"/>
<line x1="223.7" y1="371" x2="223.7" y2="362.4" stroke="#000" stroke-width="2.2"/>
<line x1="240.1" y1="366" x2="240.1" y2="359.1" stroke="#000" stroke-width="2.2"/>
<line x1="251.2" y1="362" x2="251.2" y2="355.9" stroke="#000" stroke-width="2.2"/>
<line x1="261.6" y1="358" x2="261.6" y2="355.2" stroke="#000" stroke-width="2.2"/>
<line x1="140.8" y1="440" x2="140.8" y2="451.1" stroke="#000" stroke-width="2.2"/>
<line x1="146.3" y1="440" x2="146.3" y2="446.6" stroke="#000" stroke-width="2.2"/>
<line x1="158.1" y1="441" x2="158.1" y2="445.3" stroke="#000" stroke-width="2.2"/>
<line x1="145.7" y1="412" x2="145.7" y2="408" stroke="#000" stroke-width="2.2"/>
<line x1="160" y1="419" x2="160" y2="412.6" stroke="#000" stroke-width="2.2"/>
<line x1="116.2" y1="299" x2="116.2" y2="306.3" stroke="#000" stroke-width="2.2"/>
<polyline points="278.7,435 316,413.4 347.6,412 387.8,414.9 455.3,416.3 531.25,358.75 557.5,341 574,340.3" fill="none" stroke="#7534a8" stroke-width="3" stroke-linejoin="round"/>
<circle cx="278.7" cy="435" r="5.2" fill="#7534a8"/>
<circle cx="316" cy="413.4" r="5.2" fill="#7534a8"/>
<circle cx="347.6" cy="412" r="5.2" fill="#7534a8"/>
<circle cx="387.8" cy="414.9" r="5.2" fill="#7534a8"/>
<circle cx="455.3" cy="416.3" r="5.2" fill="#7534a8"/>
<circle cx="531.25" cy="358.75" r="5.2" fill="#7534a8"/>
<circle cx="557.5" cy="341" r="5.2" fill="#7534a8"/>
<circle cx="574" cy="340.3" r="5.2" fill="#7534a8"/>
<polyline points="538.5,105.5 500,288.75 446.5,337.4 396.8,359.5 352.1,376.1 313.5,371.2 288.5,355.2 271.8,352.5 256.6,375.2 239,393.8 222.3,402.7 209.6,406.6 198.8,412.4 189,416.4 180.2,419.3 172.4,420.3 166.5,415.4 162.6,400.7 160.3,387" fill="none" stroke="#ec0008" stroke-width="3" stroke-linejoin="round"/>
<path d="M538.5,98.5 L545.3,110.9 L531.7,110.9Z" fill="#ec0008"/>
<path d="M500.0,281.8 L506.8,294.1 L493.2,294.1Z" fill="#ec0008"/>
<path d="M446.5,330.4 L453.3,342.8 L439.7,342.8Z" fill="#ec0008"/>
<path d="M396.8,352.5 L403.6,364.9 L390.0,364.9Z" fill="#ec0008"/>
<path d="M352.1,369.1 L358.9,381.5 L345.3,381.5Z" fill="#ec0008"/>
<path d="M313.5,364.2 L320.3,376.6 L306.7,376.6Z" fill="#ec0008"/>
<path d="M288.5,348.2 L295.3,360.6 L281.7,360.6Z" fill="#ec0008"/>
<path d="M271.8,345.5 L278.6,357.9 L265.0,357.9Z" fill="#ec0008"/>
<path d="M256.6,368.2 L263.4,380.6 L249.8,380.6Z" fill="#ec0008"/>
<path d="M239.0,386.8 L245.8,399.2 L232.2,399.2Z" fill="#ec0008"/>
<path d="M222.3,395.7 L229.1,408.1 L215.5,408.1Z" fill="#ec0008"/>
<path d="M209.6,399.6 L216.4,412.0 L202.8,412.0Z" fill="#ec0008"/>
<path d="M198.8,405.4 L205.6,417.8 L192.0,417.8Z" fill="#ec0008"/>
<path d="M189.0,409.4 L195.8,421.8 L182.2,421.8Z" fill="#ec0008"/>
<path d="M180.2,412.3 L187.0,424.7 L173.4,424.7Z" fill="#ec0008"/>
<path d="M172.4,413.3 L179.2,425.7 L165.6,425.7Z" fill="#ec0008"/>
<path d="M166.5,408.4 L173.3,420.8 L159.7,420.8Z" fill="#ec0008"/>
<path d="M162.6,393.7 L169.4,406.1 L155.8,406.1Z" fill="#ec0008"/>
<path d="M160.3,380.0 L167.1,392.4 L153.5,392.4Z" fill="#ec0008"/>
<line x1="272.4" y1="23.7" x2="303" y2="23.7" stroke="#000" stroke-width="3.2"/>
<line x1="270.3" y1="66.5" x2="302.9" y2="66.5" stroke="#7534a8" stroke-width="3.4"/>
<circle cx="286.7" cy="66.5" r="4.6" fill="#7534a8"/>
<line x1="270.3" y1="107.3" x2="302.9" y2="107.3" stroke="#ec0008" stroke-width="3.4"/>
<path d="M286.7,103.2 L291.7,112.0 L281.7,112.0Z" fill="#ec0008"/>
<circle cx="273.9" cy="1106.4" r="4.9" fill="#7534a8"/>
<circle cx="301.3" cy="1112.1" r="4.9" fill="#7534a8"/>
<circle cx="311.4" cy="1085" r="4.9" fill="#7534a8"/>
<circle cx="329.3" cy="1112.1" r="4.9" fill="#7534a8"/>
<circle cx="342.7" cy="1083.6" r="4.9" fill="#7534a8"/>
<circle cx="350" cy="1082.9" r="4.9" fill="#7534a8"/>
<circle cx="368.3" cy="1080.1" r="4.9" fill="#7534a8"/>
<circle cx="382" cy="1085" r="4.9" fill="#7534a8"/>
<circle cx="385.3" cy="1081.9" r="4.9" fill="#7534a8"/>
<circle cx="401.2" cy="1059.8" r="4.9" fill="#7534a8"/>
<circle cx="431.8" cy="1086.3" r="4.9" fill="#7534a8"/>
<circle cx="442" cy="1068.6" r="4.9" fill="#7534a8"/>
<circle cx="449.1" cy="1088.2" r="4.9" fill="#7534a8"/>
<circle cx="512.7" cy="1068.3" r="4.9" fill="#7534a8"/>
<circle cx="516.9" cy="1092.9" r="4.9" fill="#7534a8"/>
<circle cx="523.5" cy="1031.2" r="4.9" fill="#7534a8"/>
<circle cx="549.7" cy="1013.2" r="4.9" fill="#7534a8"/>
<circle cx="565.8" cy="1012.5" r="4.9" fill="#7534a8"/>
<circle cx="585.5" cy="974.8" r="4.9" fill="#7534a8"/>
<circle cx="604.8" cy="1018.7" r="4.9" fill="#7534a8"/>
<circle cx="611.1" cy="914.1" r="4.9" fill="#7534a8"/>
<circle cx="626.2" cy="870.4" r="4.9" fill="#7534a8"/>
<circle cx="632.1" cy="994.5" r="4.9" fill="#7534a8"/>
<circle cx="650.8" cy="983" r="4.9" fill="#7534a8"/>
<path d="M143.6,1038.9 L148.8,1048.9 L138.4,1048.9Z" fill="#ec0008"/>
<path d="M157.0,1052.5 L162.2,1062.5 L151.8,1062.5Z" fill="#ec0008"/>
<path d="M145.8,1060.1 L151.0,1070.1 L140.6,1070.1Z" fill="#ec0008"/>
<path d="M160.4,1067.9 L165.6,1077.9 L155.2,1077.9Z" fill="#ec0008"/>
<path d="M149.1,1075.9 L154.3,1085.9 L143.9,1085.9Z" fill="#ec0008"/>
<path d="M164.5,1079.8 L169.7,1089.8 L159.3,1089.8Z" fill="#ec0008"/>
<path d="M154.1,1085.5 L159.3,1095.5 L148.9,1095.5Z" fill="#ec0008"/>
<path d="M160.2,1089.1 L165.4,1099.1 L155.0,1099.1Z" fill="#ec0008"/>
<path d="M168.0,1085.5 L173.2,1095.5 L162.8,1095.5Z" fill="#ec0008"/>
<path d="M168.8,1090.5 L174.0,1100.5 L163.6,1100.5Z" fill="#ec0008"/>
<path d="M176.0,1086.2 L181.2,1096.2 L170.8,1096.2Z" fill="#ec0008"/>
<path d="M179.5,1091.3 L184.7,1101.3 L174.3,1101.3Z" fill="#ec0008"/>
<path d="M184.6,1081.9 L189.8,1091.9 L179.4,1091.9Z" fill="#ec0008"/>
<path d="M190.3,1084.8 L195.5,1094.8 L185.1,1094.8Z" fill="#ec0008"/>
<path d="M195.3,1077.6 L200.5,1087.6 L190.1,1087.6Z" fill="#ec0008"/>
<path d="M205.4,1071.2 L210.6,1081.2 L200.2,1081.2Z" fill="#ec0008"/>
<path d="M205.4,1080.5 L210.6,1090.5 L200.2,1090.5Z" fill="#ec0008"/>
<path d="M217.6,1067.5 L222.8,1077.5 L212.4,1077.5Z" fill="#ec0008"/>
<path d="M224.8,1073.3 L230.0,1083.3 L219.6,1083.3Z" fill="#ec0008"/>
<path d="M227.3,995.5 L232.5,1005.5 L222.1,1005.5Z" fill="#ec0008"/>
<path d="M230.0,1017.9 L235.2,1027.9 L224.8,1027.9Z" fill="#ec0008"/>
<path d="M233.2,1035.7 L238.4,1045.7 L228.0,1045.7Z" fill="#ec0008"/>
<path d="M238.3,1045.7 L243.5,1055.7 L233.1,1055.7Z" fill="#ec0008"/>
<path d="M243.8,1046.6 L249.0,1056.6 L238.6,1056.6Z" fill="#ec0008"/>
<path d="M251.1,1040.2 L256.3,1050.2 L245.9,1050.2Z" fill="#ec0008"/>
<path d="M248.3,1053.6 L253.5,1063.6 L243.1,1063.6Z" fill="#ec0008"/>
<path d="M259.3,1043.9 L264.5,1053.9 L254.1,1053.9Z" fill="#ec0008"/>
<path d="M234.3,1059.8 L239.5,1069.8 L229.1,1069.8Z" fill="#ec0008"/>
<path d="M266.6,1020.1 L271.8,1030.1 L261.4,1030.1Z" fill="#ec0008"/>
<path d="M270.3,1022.9 L275.5,1032.9 L265.1,1032.9Z" fill="#ec0008"/>
<path d="M269.4,1040.2 L274.6,1050.2 L264.2,1050.2Z" fill="#ec0008"/>
<path d="M279.4,1041.2 L284.6,1051.2 L274.2,1051.2Z" fill="#ec0008"/>
<path d="M284.0,1022.0 L289.2,1032.0 L278.8,1032.0Z" fill="#ec0008"/>
<path d="M293.1,1007.3 L298.3,1017.3 L287.9,1017.3Z" fill="#ec0008"/>
<path d="M292.7,1049.9 L297.9,1059.9 L287.5,1059.9Z" fill="#ec0008"/>
<path d="M308.1,1036.6 L313.3,1046.6 L302.9,1046.6Z" fill="#ec0008"/>
<path d="M322.4,1008.3 L327.6,1018.3 L317.2,1018.3Z" fill="#ec0008"/>
<path d="M326.9,1017.4 L332.1,1027.4 L321.7,1027.4Z" fill="#ec0008"/>
<path d="M347.0,1042.1 L352.2,1052.1 L341.8,1052.1Z" fill="#ec0008"/>
<path d="M400.3,993.0 L405.5,1003.0 L395.1,1003.0Z" fill="#ec0008"/>
<path d="M338.4,975.1 L343.6,985.1 L333.2,985.1Z" fill="#ec0008"/>
<path d="M363.4,978.1 L368.6,988.1 L358.2,988.1Z" fill="#ec0008"/>
<path d="M444.5,988.2 L449.7,998.2 L439.3,998.2Z" fill="#ec0008"/>
<path d="M440.5,1003.7 L445.7,1013.7 L435.3,1013.7Z" fill="#ec0008"/>
<path d="M435.4,1008.3 L440.6,1018.3 L430.2,1018.3Z" fill="#ec0008"/>
<path d="M377.5,1025.6 L382.7,1035.6 L372.3,1035.6Z" fill="#ec0008"/>
<path d="M390.3,1025.6 L395.5,1035.6 L385.1,1035.6Z" fill="#ec0008"/>
<path d="M594.0,703.0 L599.2,713.0 L588.8,713.0Z" fill="#ec0008"/>
<path d="M589.8,732.8 L595.0,742.8 L584.6,742.8Z" fill="#ec0008"/>
<path d="M530.5,772.5 L535.7,782.5 L525.3,782.5Z" fill="#ec0008"/>
<path d="M554.3,885.3 L559.5,895.3 L549.1,895.3Z" fill="#ec0008"/>
<path d="M549.7,927.3 L554.9,937.3 L544.5,937.3Z" fill="#ec0008"/>
<path d="M493.1,954.2 L498.3,964.2 L487.9,964.2Z" fill="#ec0008"/>
<path d="M496.8,967.0 L502.0,977.0 L491.6,977.0Z" fill="#ec0008"/>
<path d="M498.5,968.5 L503.7,978.5 L493.3,978.5Z" fill="#ec0008"/>
<circle cx="221.7" cy="733.9" r="5" fill="#7534a8"/>
<path d="M221.7,778.8 L226.9,788.3 L216.5,788.3Z" fill="#ec0008"/>
<text x="40.64" y="21.70" font-family="'Liberation Sans', sans-serif" font-style="normal" font-size="29.60" textLength="41.15" lengthAdjust="spacingAndGlyphs" fill="#111">0.8</text>
<text x="40.34" y="138.90" font-family="'Liberation Sans', sans-serif" font-style="normal" font-size="29.60" textLength="41.15" lengthAdjust="spacingAndGlyphs" fill="#111">0.4</text>
<text x="65.21" y="255.90" font-family="'Liberation Sans', sans-serif" font-style="normal" font-size="29.60" textLength="16.46" lengthAdjust="spacingAndGlyphs" fill="#111">0</text>
<text x="30.58" y="373.10" font-family="'Liberation Sans', sans-serif" font-style="normal" font-size="29.60" textLength="51.01" lengthAdjust="spacingAndGlyphs" fill="#111">-0.4</text>
<text x="30.87" y="490.30" font-family="'Liberation Sans', sans-serif" font-style="normal" font-size="29.60" textLength="51.01" lengthAdjust="spacingAndGlyphs" fill="#111">-0.8</text>
<text x="684.81" y="21.30" font-family="'Liberation Sans', sans-serif" font-style="normal" font-size="29.60" textLength="48.65" lengthAdjust="spacingAndGlyphs" fill="#111">150</text>
<text x="684.81" y="115.20" font-family="'Liberation Sans', sans-serif" font-style="normal" font-size="29.60" textLength="48.65" lengthAdjust="spacingAndGlyphs" fill="#111">120</text>
<text x="685.69" y="209.10" font-family="'Liberation Sans', sans-serif" font-style="normal" font-size="29.60" textLength="32.43" lengthAdjust="spacingAndGlyphs" fill="#111">90</text>
<text x="685.54" y="303.00" font-family="'Liberation Sans', sans-serif" font-style="normal" font-size="29.60" textLength="32.43" lengthAdjust="spacingAndGlyphs" fill="#111">60</text>
<text x="685.83" y="396.90" font-family="'Liberation Sans', sans-serif" font-style="normal" font-size="29.60" textLength="32.43" lengthAdjust="spacingAndGlyphs" fill="#111">30</text>
<text x="685.83" y="490.70" font-family="'Liberation Sans', sans-serif" font-style="normal" font-size="29.60" textLength="16.22" lengthAdjust="spacingAndGlyphs" fill="#111">0</text>
<text x="101.68" y="532.20" font-family="'Liberation Sans', sans-serif" font-style="normal" font-size="29.60" textLength="17.03" lengthAdjust="spacingAndGlyphs" fill="#111">0</text>
<text x="198.49" y="532.20" font-family="'Liberation Sans', sans-serif" font-style="normal" font-size="29.60" textLength="38.50" lengthAdjust="spacingAndGlyphs" fill="#111">0.7</text>
<text x="307.13" y="532.20" font-family="'Liberation Sans', sans-serif" font-style="normal" font-size="29.60" textLength="40.24" lengthAdjust="spacingAndGlyphs" fill="#111">1.4</text>
<text x="417.64" y="532.20" font-family="'Liberation Sans', sans-serif" font-style="normal" font-size="29.60" textLength="37.79" lengthAdjust="spacingAndGlyphs" fill="#111">2.1</text>
<text x="526.04" y="532.20" font-family="'Liberation Sans', sans-serif" font-style="normal" font-size="29.60" textLength="40.53" lengthAdjust="spacingAndGlyphs" fill="#111">2.8</text>
<text x="634.77" y="532.20" font-family="'Liberation Sans', sans-serif" font-style="normal" font-size="29.60" textLength="39.37" lengthAdjust="spacingAndGlyphs" fill="#111">3.5</text>
<text x="323.23" y="567.30" font-family="'Liberation Sans', sans-serif" font-style="normal" font-size="26.70" textLength="74.32" lengthAdjust="spacingAndGlyphs" fill="#111">X in Li</text>
<text x="397.61" y="574.40" font-family="'Liberation Sans', sans-serif" font-style="normal" font-size="18.50" textLength="9.69" lengthAdjust="spacingAndGlyphs" fill="#111">x</text>
<text x="406.69" y="567.30" font-family="'Liberation Sans', sans-serif" font-style="normal" font-size="26.70" textLength="34.96" lengthAdjust="spacingAndGlyphs" fill="#111">Ge</text>
<text x="373.23" y="617.20" font-family="'Liberation Serif', serif" font-style="normal" font-size="34.00" textLength="36.34" lengthAdjust="spacingAndGlyphs" fill="#111">(a)</text>
<text x="319.97" y="37.00" font-family="'Liberation Sans', sans-serif" font-style="normal" font-size="27.00" textLength="77.15" lengthAdjust="spacingAndGlyphs" fill="#111">Stress</text>
<text x="348.70" y="77.00" font-family="'Liberation Sans', sans-serif" font-style="normal" font-size="27.00" textLength="137.06" lengthAdjust="spacingAndGlyphs" fill="#111">(lithiation)</text>
<text x="348.74" y="116.50" font-family="'Liberation Sans', sans-serif" font-style="normal" font-size="27.00" textLength="169.00" lengthAdjust="spacingAndGlyphs" fill="#111">(delithiation)</text>
<text x="322.55" y="76.90" font-family="'Liberation Serif', serif" font-style="italic" font-size="27.50" textLength="18.36" lengthAdjust="spacingAndGlyphs" fill="#111" stroke="#111" stroke-width="0.5">D</text><path d="M323.9,52.8 C327.2,48.8 330.6,49.7 332.2,51.2 S337.3,53.7 340.6,49.7" fill="none" stroke="#111" stroke-width="1.9" stroke-linecap="round"/>
<text x="322.55" y="116.50" font-family="'Liberation Serif', serif" font-style="italic" font-size="27.50" textLength="18.36" lengthAdjust="spacingAndGlyphs" fill="#111" stroke="#111" stroke-width="0.5">D</text><path d="M323.9,92.6 C327.2,88.4 330.6,89.4 332.2,91.0 S337.3,93.6 340.6,89.4" fill="none" stroke="#111" stroke-width="1.9" stroke-linecap="round"/>
<g transform="translate(32.4,401.6) rotate(-90)"><text x="-2.25" y="0.00" font-family="'Liberation Sans', sans-serif" font-style="normal" font-size="29.00" textLength="299.64" lengthAdjust="spacingAndGlyphs" fill="#111">Biaxial film stress (GPa)</text></g>
<g transform="translate(758.8,358.7) rotate(-90)"><text x="0.56" y="3.20" font-family="'Liberation Serif', serif" font-style="italic" font-size="33.00" textLength="18.76" lengthAdjust="spacingAndGlyphs" fill="#111" stroke="#111" stroke-width="0.5">D</text><path d="M4.00,-21.00 C7.50,-25.80 10.50,-25.20 13.00,-23.20 S18.50,-20.80 21.60,-24.60" fill="none" stroke="#111" stroke-width="1.8" stroke-linecap="round"/><text x="22.37" y="0.00" font-family="'Liberation Sans', sans-serif" font-style="normal" font-size="28.00" textLength="60.26" lengthAdjust="spacingAndGlyphs" fill="#111">(x 10</text><text x="84.95" y="-9.60" font-family="'Liberation Sans', sans-serif" font-style="normal" font-size="18.50" textLength="27.21" lengthAdjust="spacingAndGlyphs" fill="#111">-15</text><text x="119.22" y="0.00" font-family="'Liberation Sans', sans-serif" font-style="normal" font-size="28.00" textLength="35.98" lengthAdjust="spacingAndGlyphs" fill="#111">cm</text><text x="157.03" y="-9.60" font-family="'Liberation Sans', sans-serif" font-style="normal" font-size="18.50" textLength="8.56" lengthAdjust="spacingAndGlyphs" fill="#111">2</text><text x="169.50" y="0.00" font-family="'Liberation Sans', sans-serif" font-style="normal" font-size="28.00" textLength="31.63" lengthAdjust="spacingAndGlyphs" fill="#111">/s)</text></g>
<text x="29.75" y="694.00" font-family="'Liberation Sans', sans-serif" font-style="normal" font-size="29.60" textLength="49.39" lengthAdjust="spacingAndGlyphs" fill="#111">150</text>
<text x="29.75" y="787.60" font-family="'Liberation Sans', sans-serif" font-style="normal" font-size="29.60" textLength="49.39" lengthAdjust="spacingAndGlyphs" fill="#111">120</text>
<text x="46.18" y="881.20" font-family="'Liberation Sans', sans-serif" font-style="normal" font-size="29.60" textLength="32.93" lengthAdjust="spacingAndGlyphs" fill="#111">90</text>
<text x="46.18" y="974.80" font-family="'Liberation Sans', sans-serif" font-style="normal" font-size="29.60" textLength="32.93" lengthAdjust="spacingAndGlyphs" fill="#111">60</text>
<text x="46.18" y="1068.40" font-family="'Liberation Sans', sans-serif" font-style="normal" font-size="29.60" textLength="32.93" lengthAdjust="spacingAndGlyphs" fill="#111">30</text>
<text x="62.61" y="1162.00" font-family="'Liberation Sans', sans-serif" font-style="normal" font-size="29.60" textLength="16.46" lengthAdjust="spacingAndGlyphs" fill="#111">0</text>
<text x="99.58" y="1203.00" font-family="'Liberation Sans', sans-serif" font-style="normal" font-size="29.60" textLength="17.03" lengthAdjust="spacingAndGlyphs" fill="#111">0</text>
<text x="253.01" y="1203.00" font-family="'Liberation Sans', sans-serif" font-style="normal" font-size="29.60" textLength="17.00" lengthAdjust="spacingAndGlyphs" fill="#111">1</text>
<text x="407.76" y="1203.00" font-family="'Liberation Sans', sans-serif" font-style="normal" font-size="29.60" textLength="16.01" lengthAdjust="spacingAndGlyphs" fill="#111">2</text>
<text x="561.80" y="1203.00" font-family="'Liberation Sans', sans-serif" font-style="normal" font-size="29.60" textLength="16.74" lengthAdjust="spacingAndGlyphs" fill="#111">3</text>
<text x="714.37" y="1203.00" font-family="'Liberation Sans', sans-serif" font-style="normal" font-size="29.60" textLength="17.62" lengthAdjust="spacingAndGlyphs" fill="#111">4</text>
<text x="376.61" y="1224.40" font-family="'Liberation Sans', sans-serif" font-style="normal" font-size="28.80" textLength="77.02" lengthAdjust="spacingAndGlyphs" fill="#111">X in Li</text>
<text x="453.01" y="1230.70" font-family="'Liberation Sans', sans-serif" font-style="normal" font-size="19.50" textLength="9.48" lengthAdjust="spacingAndGlyphs" fill="#111">x</text>
<text x="461.84" y="1224.40" font-family="'Liberation Sans', sans-serif" font-style="normal" font-size="28.80" textLength="36.36" lengthAdjust="spacingAndGlyphs" fill="#111">Ge</text>
<text x="400.88" y="1271.00" font-family="'Liberation Serif', serif" font-style="normal" font-size="34.50" textLength="39.30" lengthAdjust="spacingAndGlyphs" fill="#111">(b)</text>
<text x="238.44" y="743.10" font-family="'Liberation Sans', sans-serif" font-style="normal" font-size="29.00" textLength="116.29" lengthAdjust="spacingAndGlyphs" fill="#111">lithiation</text>
<text x="239.26" y="792.70" font-family="'Liberation Sans', sans-serif" font-style="normal" font-size="29.00" textLength="148.20" lengthAdjust="spacingAndGlyphs" fill="#111">delithiation</text>
<g transform="translate(27.4,1012.4) rotate(-90)"><text x="0.57" y="3.27" font-family="'Liberation Serif', serif" font-style="italic" font-size="33.69" textLength="19.15" lengthAdjust="spacingAndGlyphs" fill="#111" stroke="#111" stroke-width="0.5">D</text><path d="M4.08,-21.44 C7.66,-26.34 10.72,-25.73 13.27,-23.69 S18.89,-21.24 22.05,-25.12" fill="none" stroke="#111" stroke-width="1.8" stroke-linecap="round"/><text x="22.84" y="0.00" font-family="'Liberation Sans', sans-serif" font-style="normal" font-size="28.59" textLength="61.53" lengthAdjust="spacingAndGlyphs" fill="#111">(x 10</text><text x="86.74" y="-9.80" font-family="'Liberation Sans', sans-serif" font-style="normal" font-size="18.89" textLength="27.78" lengthAdjust="spacingAndGlyphs" fill="#111">-15</text><text x="121.72" y="0.00" font-family="'Liberation Sans', sans-serif" font-style="normal" font-size="28.59" textLength="36.74" lengthAdjust="spacingAndGlyphs" fill="#111">cm</text><text x="160.33" y="-9.80" font-family="'Liberation Sans', sans-serif" font-style="normal" font-size="18.89" textLength="8.74" lengthAdjust="spacingAndGlyphs" fill="#111">2</text><text x="173.06" y="0.00" font-family="'Liberation Sans', sans-serif" font-style="normal" font-size="28.59" textLength="32.30" lengthAdjust="spacingAndGlyphs" fill="#111">/s)</text></g></svg>
</body></html>
